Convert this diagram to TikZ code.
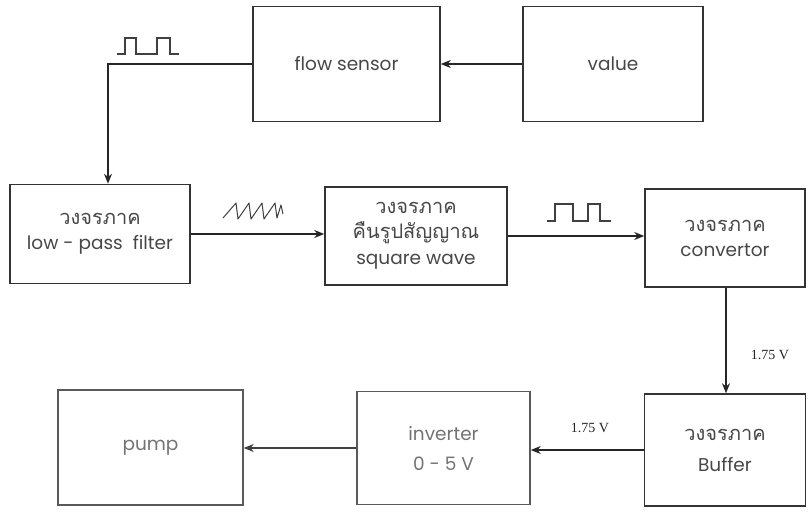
\documentclass[tikz,border=0pt]{standalone}
\usepackage{fontspec}
\setmainfont{Poppins}
\newfontfamily\thai[Script=Thai]{Loma}
\newfontfamily\volt{Liberation Serif}
\newcommand{\thaitxt}[1]{{\thai\fontsize{20}{22}\selectfont #1}}
\usetikzlibrary{arrows.meta}
\begin{document}
\begin{tikzpicture}[x=1pt,y=-1pt,
  box/.style={draw=black!80, line width=1.5pt, align=center, text=black!72, font=\fontsize{18.5}{25}\selectfont, inner sep=0pt},
  fbox/.style={box, draw=black!65, text=black!55},
  arr/.style={draw=black!85, line width=1.8pt, -{Stealth[length=10pt,width=8pt]}},
  wave/.style={draw=black!75, line width=1.1pt},
  vlab/.style={font=\volt\fontsize{14}{16}\selectfont, text=black!85}]
\useasboundingbox (0,0) rectangle (809,513);
\node[box, minimum width=187pt, minimum height=115pt] (fs) at (346.5,64) {flow sensor};
\node[box, minimum width=180pt, minimum height=115pt] (val) at (613,64) {value};
\node[box, minimum width=180pt, minimum height=99pt] (lp) at (100,234) {\thaitxt{วงจรภาค}\\low - pass\ \ filter};
\node[box, minimum width=182pt, minimum height=98pt] (sq) at (416,236) {\thaitxt{วงจรภาค}\\\thaitxt{คืนรูปสัญญาณ}\\[1pt]square wave};
\node[box, minimum width=160pt, minimum height=98pt] (cv) at (725,238) {\thaitxt{วงจรภาค}\\convertor};
\node[box, minimum width=161pt, minimum height=112pt] (bf) at (725,450) {\thaitxt{วงจรภาค}\\[6pt]Buffer};
\node[fbox, minimum width=173pt, minimum height=113pt] (inv) at (443.5,448) {inverter\\[5pt]0 - 5 V};
\node[fbox, minimum width=185pt, minimum height=115pt] (pump) at (150.5,447.5) {pump};
% connectors
\draw[arr] (val.west) -- (fs.east);
\draw[arr] (fs.west) -| ([xshift=8pt]lp.north);
\draw[arr] (lp.east) -- (lp.east -| sq.west);
\draw[arr] (sq.east) -- (sq.east -| cv.west);
\draw[arr] ([xshift=1pt]cv.south) -- ([xshift=1pt]bf.north);
\draw[arr] (bf.west) -- (bf.west -| inv.east);
\draw[arr, draw=black!75] (inv.west) -- (inv.west -| pump.east);
% signal shapes
\draw[wave] (117,54) -- (125,54) -- (125,38) -- (136,38) -- (136,54) -- (157,54) -- (157,38) -- (170,38) -- (170,54) -- (179,54);
\draw[wave] (547,221) -- (555,221) -- (555,204) -- (573,204) -- (573,221) -- (588,221) -- (588,204) -- (600,204) -- (600,221) -- (611,221);
\draw[wave, line width=1pt, line join=round] (223,218) -- (236,203) -- (238,219) -- (249,203) -- (251,219) -- (262,203) -- (264,219) -- (275,203) -- (277,218) -- (281,205) -- (283,214);
% labels
\node[vlab] (v1) at (770,355) {1.75 V};
\node[vlab] (v2) at (590,428) {1.75 V};
\end{tikzpicture}
\end{document}
